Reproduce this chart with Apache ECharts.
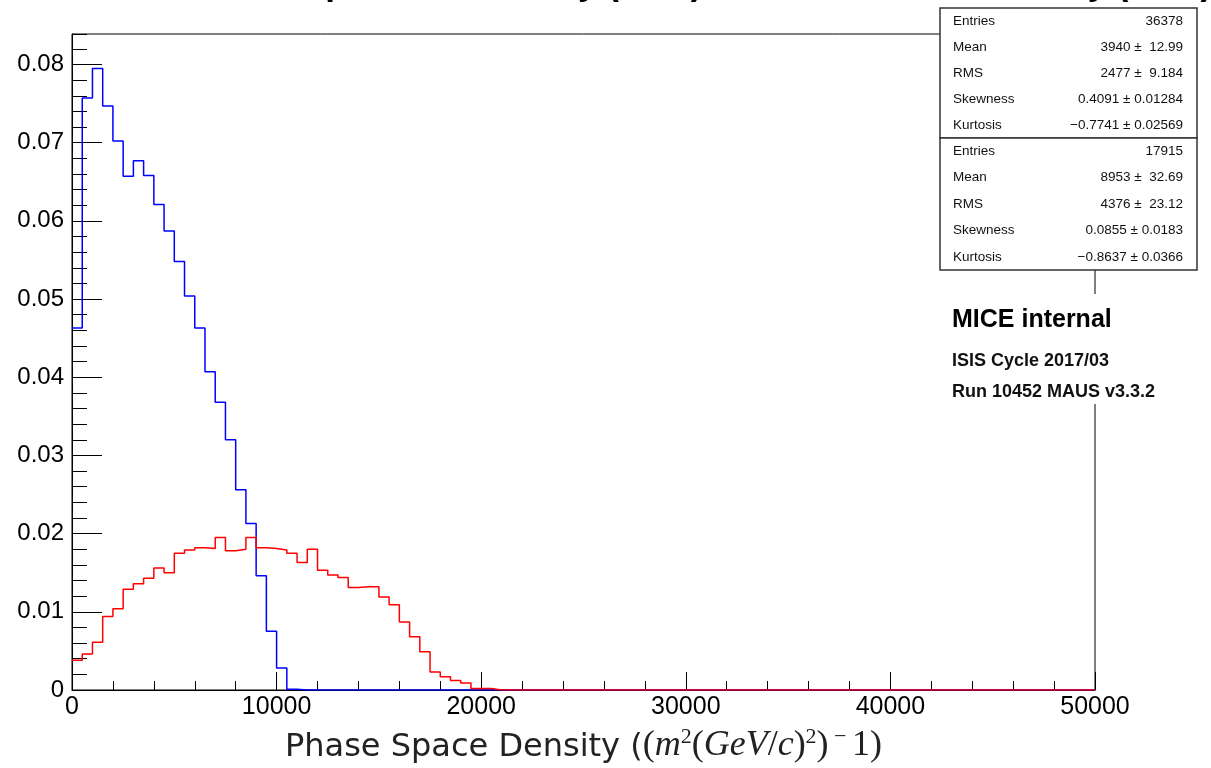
<!DOCTYPE html>
<html>
<head>
<meta charset="utf-8">
<script src="https://cdn.jsdelivr.net/npm/echarts@6/dist/echarts.min.js"></script>
<style>
html,body{margin:0;padding:0;background:#fff;}
#chart{width:1211px;height:768px;}
</style>
</head>
<body>
<div id="chart"></div>
<script>
// ---- data (bin contents, 100 bins of width 500 from 0 to 50000) ----
const binWidth = 500;
const xTicks = [0, 10000, 20000, 30000, 40000, 50000];
const yTicks = [0, 0.01, 0.02, 0.03, 0.04, 0.05, 0.06, 0.07, 0.08];

const upstream = [
  0.0463, 0.0757, 0.0795, 0.0747, 0.0702, 0.0657, 0.0677, 0.0658, 0.0621, 0.0587,
  0.0548, 0.0504, 0.0463, 0.0407, 0.0368, 0.0320, 0.0256, 0.0213, 0.0146, 0.0075,
  0.0028, 0.0001, 0, 0, 0, 0, 0, 0, 0, 0,
  0, 0, 0, 0, 0, 0, 0, 0, 0, 0,
  0, 0, 0, 0, 0, 0, 0, 0, 0, 0,
  0, 0, 0, 0, 0, 0, 0, 0, 0, 0,
  0, 0, 0, 0, 0, 0, 0, 0, 0, 0,
  0, 0, 0, 0, 0, 0, 0, 0, 0, 0,
  0, 0, 0, 0, 0, 0, 0, 0, 0, 0,
  0, 0, 0, 0, 0, 0, 0, 0, 0, 0
];

const downstream = [
  0.0038, 0.0046, 0.0061, 0.0094, 0.0104, 0.0129, 0.0136, 0.0143, 0.0156, 0.0150,
  0.0175, 0.0179, 0.0182, 0.0181, 0.0195, 0.0178, 0.0180, 0.0195, 0.0182, 0.0181,
  0.0179, 0.0175, 0.0163, 0.0180, 0.0153, 0.0147, 0.0144, 0.0131, 0.0132, 0.0132,
  0.0119, 0.0109, 0.0087, 0.0068, 0.0049, 0.0023, 0.0017, 0.0012, 0.0009, 0.0002,
  0.0002, 0, 0, 0, 0, 0, 0, 0, 0, 0,
  0, 0, 0, 0, 0, 0, 0, 0, 0, 0,
  0, 0, 0, 0, 0, 0, 0, 0, 0, 0,
  0, 0, 0, 0, 0, 0, 0, 0, 0, 0,
  0, 0, 0, 0, 0, 0, 0, 0, 0, 0,
  0, 0, 0, 0, 0, 0, 0, 0, 0, 0
];

const statsUp = [
  ['Entries', '36378'],
  ['Mean', '3940 \u00b1  12.99'],
  ['RMS', '2477 \u00b1  9.184'],
  ['Skewness', '0.4091 \u00b1 0.01284'],
  ['Kurtosis', '\u22120.7741 \u00b1 0.02569']
];
const statsDown = [
  ['Entries', '17915'],
  ['Mean', '8953 \u00b1  32.69'],
  ['RMS', '4376 \u00b1  23.12'],
  ['Skewness', '0.0855 \u00b1 0.0183'],
  ['Kurtosis', '\u22120.8637 \u00b1 0.0366']
];
const titleText = 'Upstream Density (TKU) vs Downstream Density (TKD)';
const labelLines = ['MICE internal', 'ISIS Cycle 2017/03', 'Run 10452 MAUS v3.3.2'];

// ---- build histogram step points ----
function toSteps(vals) {
  const pts = vals.map((v, i) => [i * binWidth, v]);
  pts.push([vals.length * binWidth, vals[vals.length - 1]]);
  return pts;
}

const chart = echarts.init(document.getElementById('chart'), null, {renderer: 'canvas'});

// stats box graphics
function statsBox(rows, top, h) {
  const children = [{
    type: 'rect',
    shape: {x: 940, y: top, width: 257, height: h},
    style: {fill: '#fff', stroke: '#333', lineWidth: 1.5}
  }];
  const step = h / rows.length;
  rows.forEach((r, i) => {
    const cy = top + step * (i + 0.5);
    children.push({type: 'text', x: 953, y: cy,
      style: {text: r[0], font: '13.5px "Liberation Sans", Arial, sans-serif', fill: '#111', verticalAlign: 'middle', align: 'left'}});
    children.push({type: 'text', x: 1183, y: cy,
      style: {text: r[1], font: '13.5px "Liberation Sans", Arial, sans-serif', fill: '#111', verticalAlign: 'middle', align: 'right'}});
  });
  return {type: 'group', z: 100, children: children};
}

const yMax = 0.0839;

const option = {
  backgroundColor: '#fff',
  animation: false,
  grid: {left: 72, right: 116, top: 34, bottom: 78, outerBoundsMode: 'none', containLabel: false,
    show: true, borderColor: '#000', borderWidth: 1, backgroundColor: 'transparent'},
  xAxis: {
    type: 'value', min: xTicks[0], max: xTicks[xTicks.length - 1], interval: xTicks[1] - xTicks[0],
    axisLine: {show: true, onZero: false, lineStyle: {color: '#000', width: 1}},
    axisTick: {show: true, inside: true, length: 18, lineStyle: {color: '#000', width: 1}},
    minorTick: {show: true, splitNumber: 5, length: 9, lineStyle: {color: '#000', width: 1}},
    splitLine: {show: false},
    axisLabel: {color: '#000', fontSize: 25, margin: 5, fontFamily: '"Liberation Sans", Arial, sans-serif',
      formatter: v => String(v)},
    name: '{s|Phase Space Density (}{m|(}{i|m}{sup|2}{m|(}{i|GeV}{m|/}{i|c}{m|)}{sup|2}{m|)}{sup| \u2212 }{m|1)}',
    nameLocation: 'middle', nameGap: 36,
    nameTextStyle: {
      rich: {
        s: {fontFamily: '"DejaVu Sans", sans-serif', fontSize: 32, color: '#222', verticalAlign: 'bottom', lineHeight: 38},
        m: {fontFamily: '"Liberation Serif", serif', fontSize: 36, color: '#222', verticalAlign: 'bottom', lineHeight: 38},
        i: {fontFamily: '"Liberation Serif", serif', fontStyle: 'italic', fontSize: 36, color: '#222', verticalAlign: 'bottom', lineHeight: 38},
        sup: {fontFamily: '"Liberation Serif", serif', fontSize: 22, color: '#222', verticalAlign: 'top', lineHeight: 38}
      }
    }
  },
  yAxis: [{
    type: 'value', min: 0, max: yMax, interval: yTicks[1] - yTicks[0],
    axisLine: {show: true, lineStyle: {color: '#000', width: 1}},
    axisTick: {show: true, inside: true, length: 30, lineStyle: {color: '#000', width: 1}},
    splitLine: {show: false},
    axisLabel: {color: '#000', fontSize: 24, margin: 8, showMaxLabel: false, fontFamily: '"Liberation Sans", Arial, sans-serif',
      formatter: v => (v === 0 ? '0' : (yTicks.some(t => Math.abs(t - v) < 1e-9) ? v.toFixed(2) : ''))}
  }, {
    type: 'value', min: 0, max: yMax, interval: 0.002, position: 'left',
    axisLine: {show: false},
    axisTick: {show: true, inside: true, length: 15, lineStyle: {color: '#000', width: 1}},
    splitLine: {show: false},
    axisLabel: {show: false}
  }],
  series: [{
    name: 'upstream', type: 'line', step: 'end', symbol: 'none', yAxisIndex: 0,
    data: toSteps(upstream), lineStyle: {color: '#0000ff', width: 1.5}, z: 3
  }, {
    name: 'downstream', type: 'line', step: 'end', symbol: 'none', yAxisIndex: 0,
    data: toSteps(downstream), lineStyle: {color: '#ff0000', width: 1.5}, z: 4
  }],
  graphic: [
    {type: 'text', x: 756, y: 3, z: 50,
      style: {text: titleText, font: 'bold 35px "Liberation Sans", Arial, sans-serif', fill: '#000', align: 'center', verticalAlign: 'bottom'}},
    statsBox(statsUp, 8, 130),
    statsBox(statsDown, 138, 132),
    {type: 'rect', z: 90, shape: {x: 944, y: 294, width: 262, height: 110}, style: {fill: '#fff'}},
    {type: 'text', z: 95, x: 952, y: 320, style: {text: labelLines[0], font: 'bold 25px "Liberation Sans", Arial, sans-serif', fill: '#000', verticalAlign: 'middle'}},
    {type: 'text', z: 95, x: 952, y: 361, style: {text: labelLines[1], font: 'bold 18px "Liberation Sans", Arial, sans-serif', fill: '#111', verticalAlign: 'middle'}},
    {type: 'text', z: 95, x: 952, y: 392, style: {text: labelLines[2], font: 'bold 18px "Liberation Sans", Arial, sans-serif', fill: '#111', verticalAlign: 'middle'}}
  ]
};
chart.setOption(option);
</script>
</body>
</html>
